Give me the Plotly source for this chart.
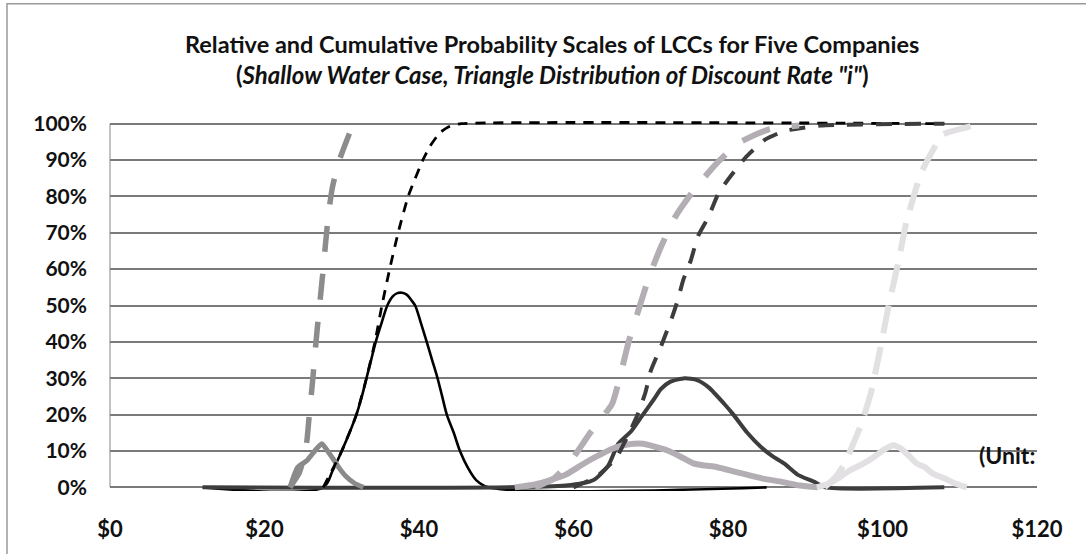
import plotly.graph_objects as go

# ---------------- data ----------------
x_tick_vals = [0, 20, 40, 60, 80, 100, 120]
x_tick_text = ["$0", "$20", "$40", "$60", "$80", "$100", "$120"]
y_tick_vals = [0, 10, 20, 30, 40, 50, 60, 70, 80, 90, 100]
y_tick_text = ["0%", "10%", "20%", "30%", "40%", "50%", "60%", "70%", "80%", "90%", "100%"]

title_line1 = "Relative and Cumulative Probability Scales of LCCs for Five Companies"
title_line2 = "Shallow Water Case, Triangle Distribution of Discount Rate \"i\""
unit_text = "(Unit:"

# Company A (medium gray)
a_rel_x = [23.3, 24.3, 25.5, 26.5, 27.4, 28.0, 28.7, 29.6, 30.6, 31.6, 32.8]
a_rel_y = [0, 5.5, 7.4, 10, 12, 10.5, 8.4, 5.5, 2.9, 1.2, 0]
a_cum_x = [23.3, 24.5, 25.2, 25.5, 25.8, 26.2, 26.5, 26.8, 27.2, 27.6, 27.9, 28.3, 28.8, 29.7, 31.3]
a_cum_y = [0, 4, 9, 13, 20, 28.6, 36, 43, 51.5, 60, 67, 75.5, 82.6, 90, 99]

# Company B (black)
b_rel_x = [12, 27.6, 28.8, 30.0, 31.0, 31.9, 32.6, 33.2, 33.8, 34.4, 35.2, 35.9, 36.6, 37.2,
           37.8, 38.4, 39.0, 39.5, 40.2, 41.0, 41.7, 42.4, 43.0, 43.6, 44.5, 45.3, 46.3,
           47.4, 49.0, 85]
b_rel_y = [0, 0, 4.5, 10, 15, 20, 25, 30, 35, 40, 45.5, 50, 52.5, 53.4,
           53.5, 53, 51.5, 50, 45.5, 40, 35, 30, 25, 20, 15, 10, 5.5,
           2, 0, 0]
b_cum_x = [27.6, 30, 31.9, 33.2, 34.3, 35.2, 36.2, 37.3, 38.6, 40.5, 41.4, 42.7, 44, 45.5, 108]
b_cum_y = [0, 10, 20, 30, 40, 50, 60, 70, 80, 90, 93.7, 97.5, 99.3, 100, 100]

# Company C (dark gray)
c_rel_x = [12, 59, 62.6, 64.5, 65.8, 67.5, 68.9, 70.5, 71.3, 72.5, 74.4, 76, 77.5, 79.5,
           80.7, 82.5, 84.3, 85.8, 87.3, 89, 91.2, 92.6, 108]
c_rel_y = [0, 0.5, 2, 6, 12, 15.5, 19.7, 24.5, 27, 29, 30, 29.5, 27.5, 23,
           20, 15, 11, 8.5, 6.5, 3.5, 1.5, 0, 0]
c_cum_x = [60, 63, 65.5, 67, 68.3, 69.3, 70, 71.3, 72.8, 73.5, 74.2, 75.2, 76.1, 77.5,
           78.8, 80.5, 82.4, 84.8, 87.3, 88.7, 92, 108]
c_cum_y = [0, 3, 8, 14, 20, 26, 32, 38.6, 47, 51.5, 57, 62.5, 69, 74.5,
           81, 86, 91, 95.6, 98, 98.5, 99.5, 100]

# Company D (light gray)
d_rel_x = [52.4, 55, 57, 59, 61.3, 63, 65.1, 67, 69, 70.5, 72.1, 73.8, 75.5, 77, 78.5,
           81.1, 84.5, 87, 89.3, 91.6]
d_rel_y = [0, 0.8, 2, 3.5, 6.5, 8.5, 10.7, 11.8, 12, 11.2, 10.2, 8.5, 6.6, 6, 5.6,
           4.2, 2.4, 1.5, 0.5, 0]
d_cum_x = [55, 57.5, 59.7, 62.1, 65, 66.2, 67.2, 68.4, 69.8, 71.3, 73.2, 75.6, 78.5, 81.4, 85.3, 89.2]
d_cum_y = [0, 2.5, 7.4, 14.8, 23, 32, 40.5, 48.7, 58, 66, 74.5, 81.8, 89, 94.7, 98.4, 99.5]

# Company E (very light gray)
e_rel_x = [91.5, 93, 94.5, 95.8, 97.5, 99, 100.3, 101.4, 102.5, 103.5, 104.4, 105.5,
           106.5, 108, 109.5, 110.9]
e_rel_y = [0, 1, 2.8, 4.7, 6.5, 8.5, 10.5, 11.6, 10.5, 8.5, 6.6, 5.5, 3.8, 2.5, 1, 0]
e_cum_x = [92.5, 94, 95.1, 96.4, 97.3, 98.5, 99.7, 100.8, 102, 103.1, 104.4, 105,
           106.8, 107.8, 110.9, 112.6]
e_cum_y = [0, 3, 6.6, 12.9, 17.6, 26, 38, 50, 61.5, 73, 82.6, 86.5, 93.7, 97, 99, 100]

# ---------------- figure ----------------
fig = go.Figure()


def add(x, y, color, width, dash="solid", smoothing=0.6):
    fig.add_trace(go.Scatter(
        x=x, y=y, mode="lines",
        line=dict(color=color, width=width, dash=dash, shape="spline", smoothing=smoothing),
        showlegend=False, hoverinfo="skip",
    ))


# relative curves
add(b_rel_x, b_rel_y, "#000000", 2.6, smoothing=0.9)
add(c_rel_x, c_rel_y, "#3d3d3d", 4)
add(a_rel_x, a_rel_y, "#8a8a8a", 5)
add(d_rel_x, d_rel_y, "#b3aeb3", 6)
add(e_rel_x, e_rel_y, "#e2e0e2", 6)

# cumulative curves
add(b_cum_x, b_cum_y, "#000000", 2.8, "10px,8px", 0.5)
add(a_cum_x, a_cum_y, "#8c8c8c", 5.5, "26px,22px", 0.5)
add(c_cum_x, c_cum_y, "#3d3d3d", 4, "16px,13px", 0.5)
add(d_cum_x, d_cum_y, "#b3aeb3", 6, "30px,22px", 0.5)
add(e_cum_x, e_cum_y, "#e2e0e2", 6, "28px,14px", 0.5)

FONT = "Lato, 'Open Sans', sans-serif"

# plot area in pixels: left 110, width 927, top 120.4, height 370.2 (y range -1..101)
PL, PW, PT, PH = 110, 927, 120.4, 370.2


def px_to_paper_x(px):
    return (px - PL) / PW


def px_to_paper_y(py):
    return (PT + PH - py) / PH


fig.add_annotation(
    x=px_to_paper_x(552), xref="paper", xanchor="center",
    y=px_to_paper_y(45), yref="paper", yanchor="middle",
    text="<b>" + title_line1 + "</b>", showarrow=False, borderpad=0,
    font=dict(family=FONT, size=23.5, color="#111111"),
)
fig.add_annotation(
    x=px_to_paper_x(552), xref="paper", xanchor="center",
    y=px_to_paper_y(75), yref="paper", yanchor="middle",
    text="<b>(<i>" + title_line2 + "</i>)</b>", showarrow=False, borderpad=0,
    font=dict(family=FONT, size=24, color="#111111"),
)
fig.add_annotation(
    x=1, xref="paper", xanchor="right",
    y=9, yref="y", yanchor="middle",
    text="<b>" + unit_text + "</b>", showarrow=False,
    font=dict(family=FONT, size=23, color="#111111"),
)

# chart border (top and left visible in the reference)
fig.add_shape(type="rect", xref="paper", yref="paper",
              x0=px_to_paper_x(7), x1=px_to_paper_x(1100),
              y0=px_to_paper_y(570), y1=px_to_paper_y(4.5),
              line=dict(color="#9a9a9a", width=1.5), layer="below")

fig.update_layout(
    width=1086, height=554,
    margin=dict(l=PL, r=1086 - PL - PW, t=PT, b=554 - PT - PH),
    paper_bgcolor="white", plot_bgcolor="white",
    xaxis=dict(
        range=[0, 120], tickvals=x_tick_vals, ticktext=x_tick_text,
        showgrid=False, zeroline=False, showline=False,
        ticks="", ticklabelstandoff=23,
        tickfont=dict(family=FONT, size=22, color="#111111", weight="bold"),
    ),
    yaxis=dict(
        range=[-1, 101], tickvals=y_tick_vals, ticktext=y_tick_text,
        showgrid=True, gridcolor="#7a7a7a", gridwidth=1.5,
        zeroline=False, showline=False,
        ticks="", ticklabelstandoff=22,
        tickfont=dict(family=FONT, size=21, color="#111111", weight="bold"),
    ),
)

# left axis line from 0% to 100%
fig.add_shape(type="line", xref="paper", yref="y", x0=0, x1=0, y0=0, y1=100,
              line=dict(color="#9a9a9a", width=1.2), layer="below")

fig.write_html("out.html", config={"displayModeBar": False},
               post_script="document.body.style.margin='0';document.body.style.overflow='hidden';")
